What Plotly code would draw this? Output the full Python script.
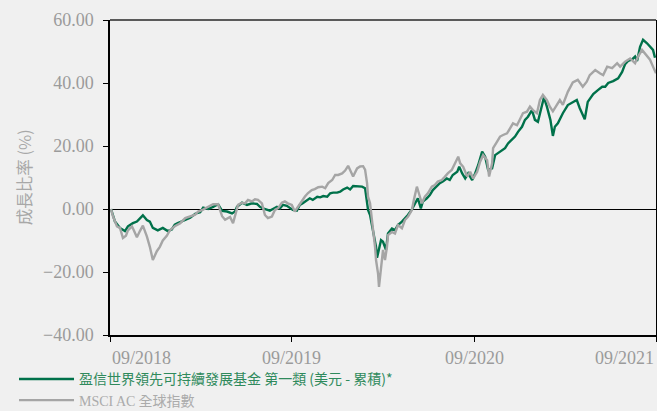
import plotly.graph_objects as go

# ---------------- data ----------------
fund_dates = [
    "2018-09-03", "2018-09-11", "2018-09-21", "2018-10-01", "2018-10-07", "2018-10-17", "2018-10-25",
    "2018-10-31", "2018-11-06", "2018-11-14", "2018-11-20", "2018-11-26", "2018-12-06", "2018-12-16",
    "2018-12-26", "2019-01-03", "2019-01-09", "2019-01-15", "2019-01-30", "2019-02-09", "2019-02-19",
    "2019-03-01", "2019-03-07", "2019-03-17", "2019-03-27", "2019-04-06", "2019-04-14", "2019-04-24",
    "2019-05-04", "2019-05-10", "2019-05-14", "2019-05-24", "2019-06-03", "2019-06-13", "2019-06-23",
    "2019-06-29", "2019-07-05", "2019-07-13", "2019-07-19", "2019-07-25", "2019-08-02", "2019-08-08",
    "2019-08-14", "2019-08-22", "2019-08-28", "2019-09-03", "2019-09-11", "2019-09-17", "2019-09-23",
    "2019-10-01", "2019-10-07", "2019-10-13", "2019-10-22", "2019-10-28", "2019-11-03", "2019-11-11",
    "2019-11-17", "2019-11-23", "2019-12-01", "2019-12-07", "2019-12-13", "2019-12-21", "2019-12-27",
    "2020-01-02", "2020-01-12", "2020-01-20", "2020-01-26", "2020-02-01", "2020-02-05", "2020-02-11",
    "2020-02-17", "2020-02-19", "2020-02-23", "2020-02-27", "2020-03-02", "2020-03-08", "2020-03-12",
    "2020-03-20", "2020-03-26", "2020-04-01", "2020-04-09", "2020-04-15", "2020-04-21", "2020-04-29",
    "2020-05-05", "2020-05-11", "2020-05-17", "2020-05-21", "2020-05-29", "2020-06-04", "2020-06-10",
    "2020-06-18", "2020-06-24", "2020-06-30", "2020-07-08", "2020-07-14", "2020-07-20", "2020-07-29",
    "2020-08-02", "2020-08-08", "2020-08-14", "2020-08-20", "2020-08-28", "2020-09-03", "2020-09-09",
    "2020-09-17", "2020-09-23", "2020-09-29", "2020-10-07", "2020-10-13", "2020-10-19", "2020-10-27",
    "2020-11-02", "2020-11-08", "2020-11-16", "2020-11-22", "2020-11-28", "2020-12-06", "2020-12-12",
    "2020-12-18", "2020-12-26", "2021-01-01", "2021-01-07", "2021-01-15", "2021-01-19", "2021-01-25",
    "2021-02-01", "2021-02-06", "2021-02-10", "2021-02-16", "2021-02-26", "2021-03-08", "2021-03-18",
    "2021-03-26", "2021-04-01", "2021-04-11", "2021-04-17", "2021-04-28", "2021-05-08", "2021-05-16",
    "2021-05-22", "2021-05-28", "2021-06-07", "2021-06-17", "2021-06-25", "2021-07-01", "2021-07-07",
    "2021-07-15", "2021-07-21", "2021-07-25", "2021-07-31", "2021-08-06", "2021-08-14", "2021-08-20",
    "2021-08-26", "2021-08-30",
]
fund_values = [
    0.0, -4.0, -6.0, -7.0, -5.5, -4.5, -4.0,
    -3.0, -2.0, -3.5, -4.0, -6.0, -6.8, -6.0,
    -7.0, -6.5, -5.0, -4.5, -3.4, -2.8, -1.5,
    -1.0, 0.4, 0.0, 0.7, 1.5, -0.6, -0.8,
    -1.4, -0.8, 0.7, 2.0, 1.3, 1.8, 1.6,
    0.7, 0.2, -0.1, -0.5, 0.0, 0.7, 0.2,
    1.3, 1.0, 0.2, -0.3, -0.5, 1.3, 1.8,
    2.8, 3.4, 2.9, 3.9, 3.7, 4.1, 3.9,
    5.0, 5.2, 5.2, 5.5, 6.2, 6.8, 6.2,
    7.3, 7.1, 7.1, 6.6, -0.3, -1.9, -6.7,
    -12.0, -15.5, -13.1, -9.9, -10.4, -13.0, -7.8,
    -6.2, -6.7, -5.1, -4.0, -3.0, -1.9, -0.1,
    1.8, 3.4, 0.2, 2.4, 3.4, 4.4, 6.0,
    7.1, 8.2, 8.7, 9.7, 9.2, 10.8, 11.8,
    13.4, 11.3, 9.7, 11.3, 9.2, 11.3, 13.9,
    18.2, 16.6, 12.4, 12.9, 17.1, 17.7, 18.7,
    19.3, 20.8, 21.9, 23.0, 24.5, 26.1, 28.3,
    29.3, 31.4, 28.3, 27.7, 33.5, 35.4, 32.5,
    28.3, 23.2, 26.1, 27.2, 30.4, 33.0, 34.0,
    34.6, 32.0, 28.5, 34.0, 36.5, 37.8, 38.8,
    38.8, 40.0, 40.6, 41.5, 43.5, 46.0, 47.0,
    47.5, 48.4, 47.0, 51.5, 53.7, 52.6, 51.5,
    50.5, 48.0,
]

index_dates = [
    "2018-09-03", "2018-09-07", "2018-09-15", "2018-09-21", "2018-09-27", "2018-10-03", "2018-10-07",
    "2018-10-15", "2018-10-19", "2018-10-25", "2018-10-31", "2018-11-06", "2018-11-14", "2018-11-20",
    "2018-11-26", "2018-12-04", "2018-12-10", "2018-12-16", "2018-12-24", "2018-12-30", "2019-01-09",
    "2019-01-20", "2019-01-30", "2019-02-09", "2019-02-19", "2019-02-25", "2019-03-07", "2019-03-17",
    "2019-03-27", "2019-04-06", "2019-04-14", "2019-04-20", "2019-04-30", "2019-05-06", "2019-05-10",
    "2019-05-16", "2019-05-24", "2019-05-30", "2019-06-05", "2019-06-13", "2019-06-19", "2019-06-25",
    "2019-07-03", "2019-07-09", "2019-07-15", "2019-07-23", "2019-07-29", "2019-08-04", "2019-08-12",
    "2019-08-18", "2019-08-24", "2019-09-01", "2019-09-07", "2019-09-13", "2019-09-21", "2019-09-27",
    "2019-10-03", "2019-10-11", "2019-10-17", "2019-10-24", "2019-11-01", "2019-11-07", "2019-11-13",
    "2019-11-21", "2019-11-27", "2019-12-03", "2019-12-11", "2019-12-17", "2019-12-23", "2019-12-29",
    "2020-01-02", "2020-01-10", "2020-01-16", "2020-01-22", "2020-01-26", "2020-01-30", "2020-02-01",
    "2020-02-05", "2020-02-09", "2020-02-11", "2020-02-15", "2020-02-17", "2020-02-21", "2020-02-23",
    "2020-02-27", "2020-03-02", "2020-03-06", "2020-03-10", "2020-03-12", "2020-03-20", "2020-03-26",
    "2020-04-01", "2020-04-09", "2020-04-15", "2020-04-21", "2020-04-29", "2020-05-03", "2020-05-09",
    "2020-05-13", "2020-05-19", "2020-05-25", "2020-05-31", "2020-06-08", "2020-06-14", "2020-06-20",
    "2020-06-28", "2020-07-04", "2020-07-10", "2020-07-18", "2020-07-25", "2020-07-31", "2020-08-04",
    "2020-08-10", "2020-08-18", "2020-08-24", "2020-08-30", "2020-09-07", "2020-09-13", "2020-09-19",
    "2020-09-27", "2020-10-01", "2020-10-07", "2020-10-09", "2020-10-17", "2020-10-23", "2020-10-29",
    "2020-11-06", "2020-11-12", "2020-11-18", "2020-11-26", "2020-12-02", "2020-12-08", "2020-12-16",
    "2020-12-22", "2020-12-28", "2021-01-05", "2021-01-11", "2021-01-17", "2021-01-25", "2021-01-31",
    "2021-02-06", "2021-02-14", "2021-02-20", "2021-02-26", "2021-03-08", "2021-03-18", "2021-03-28",
    "2021-04-07", "2021-04-15", "2021-04-21", "2021-05-02", "2021-05-12", "2021-05-18", "2021-05-26",
    "2021-06-05", "2021-06-15", "2021-06-21", "2021-07-01", "2021-07-11", "2021-07-21", "2021-07-27",
    "2021-08-04", "2021-08-14", "2021-08-20", "2021-08-26", "2021-09-01",
]
index_values = [
    0.0, -2.3, -5.5, -6.0, -9.2, -8.5, -6.8,
    -5.5, -6.8, -9.0, -7.0, -5.3, -8.7, -12.0,
    -16.2, -13.4, -12.0, -10.0, -8.5, -6.8, -5.5,
    -4.5, -2.9, -2.4, -1.8, -0.8, -0.2, 0.7,
    1.5, 1.5, -2.3, -3.4, -2.5, -4.5, -2.4,
    1.3, 2.0, 1.8, 2.9, 2.4, 3.1, 2.9,
    1.8, -1.9, -2.9, -2.4, -0.3, 0.2, 2.0,
    2.4, 1.8, 1.3, -0.8, 0.7, 2.4, 3.9,
    5.0, 6.0, 6.3, 6.9, 7.1, 6.6, 8.2,
    9.2, 10.8, 10.8, 11.3, 12.2, 13.7, 11.3,
    10.3, 12.9, 13.5, 13.6, 12.5, 8.2, 3.9,
    1.8, -3.5, -6.7, -12.0, -16.2, -20.4, -24.7,
    -19.3, -13.0, -16.2, -12.0, -8.3, -7.3, -7.8,
    -5.1, -6.1, -3.5, -2.5, -0.3, 2.9, 7.1,
    5.0, 1.8, 3.9, 5.0, 7.1, 7.6, 8.7,
    9.2, 10.2, 11.3, 12.4, 14.5, 16.6, 14.5,
    13.4, 10.3, 11.8, 9.7, 11.8, 15.0, 17.1,
    15.5, 10.3, 14.5, 19.3, 21.4, 23.0, 23.5,
    24.0, 25.6, 27.2, 26.6, 28.8, 30.4, 30.9,
    32.5, 31.4, 30.4, 34.6, 36.2, 34.6, 32.5,
    31.0, 33.0, 34.6, 33.1, 37.2, 40.2, 41.0,
    38.8, 40.4, 42.5, 44.1, 43.0, 42.5, 45.2,
    44.7, 46.3, 45.2, 46.8, 47.8, 46.3, 48.4,
    50.5, 48.4, 47.4, 45.2, 43.1,
]

fund_name = "盈信世界領先可持續發展基金 第一類 (美元 - 累積)*"
index_name_latin = "MSCI AC"
index_name_cjk = "全球指數"

x_tick_dates = ["2018-09-01", "2019-09-01", "2020-09-01", "2021-09-01"]
x_tick_labels = ["09/2018", "09/2019", "09/2020", "09/2021"]
y_tick_values = [-40, -20, 0, 20, 40, 60]
y_title = "成長比率 (%)"

# ---------------- styles ----------------
GREEN = "#00714a"
GREEN_TEXT = "#2f8a5c"
GREY = "#a5a5a5"
GREY_TEXT = "#ababab"
TICK_GREY = "#9b9b9b"
BG = "#f0f0f0"
SERIF = "Liberation Serif"
CJK = "Noto Sans CJK TC"

fig = go.Figure()
fig.add_trace(go.Scatter(
    x=fund_dates, y=fund_values, mode="lines",
    line=dict(color=GREEN, width=2.4),
    name=f"<span style='color:{GREEN_TEXT}'>{fund_name}</span>",
))
fig.add_trace(go.Scatter(
    x=index_dates, y=index_values, mode="lines",
    line=dict(color=GREY, width=2.4),
    name=(f"<span style='color:{GREY_TEXT};font-family:{SERIF}'>{index_name_latin}</span>"
          f"<span style='color:{GREY_TEXT}'> {index_name_cjk}</span>"),
))

fig.update_layout(
    width=657, height=411,
    margin=dict(l=110, r=1, t=20, b=76, autoexpand=False),
    paper_bgcolor=BG, plot_bgcolor=BG,
    showlegend=True,
    legend=dict(
        x=-0.1758, y=-0.09, xanchor="left", yanchor="top",
        orientation="v", bgcolor="rgba(0,0,0,0)",
        font=dict(family=CJK, size=14, color=GREEN_TEXT),
        itemwidth=55, tracegroupgap=0,
    ),
    xaxis=dict(
        type="date", range=["2018-09-01", "2021-09-01"],
        tickvals=x_tick_dates, ticktext=x_tick_labels, showticklabels=False,
        ticks="outside", ticklen=5, tickcolor="#000", tickwidth=1,
        showline=True, linecolor="#000", linewidth=1.5,
        showgrid=False, zeroline=False,
    ),
    yaxis=dict(
        range=[-40, 60], tickvals=y_tick_values, tickformat=".2f",
        ticks="outside", ticklen=5, tickcolor="#000", tickwidth=1,
        ticklabelstandoff=6,
        showline=True, linecolor="#000", linewidth=1.5, mirror=True,
        showgrid=False, zeroline=True, zerolinecolor="#000", zerolinewidth=1,
        tickfont=dict(family=SERIF, size=18, color=TICK_GREY),
    ),
)

# top border of the plot frame
fig.add_shape(type="line", xref="paper", yref="paper", x0=0, x1=1, y0=1, y1=1,
              line=dict(color="#5a5a5a", width=2))

# x-axis tick labels (first left-aligned, last right-aligned, as in the reference)
anchors = ["left", "center", "center", "right"]
for d, lab, anc in zip(x_tick_dates, x_tick_labels, anchors):
    fig.add_annotation(x=d, xref="x", y=-0.072, yref="paper", text=lab,
                       showarrow=False, xanchor=anc, yanchor="middle",
                       font=dict(family=SERIF, size=18, color=TICK_GREY))

# y-axis title
fig.add_annotation(x=-0.158, xref="paper", y=0.5, yref="paper", text=y_title,
                   textangle=-90, showarrow=False, xanchor="center", yanchor="middle",
                   font=dict(family=CJK, size=16.5, color="#a8a8a8"))

fig.write_html("out.html",
               config={"displayModeBar": False},
               post_script="document.body.style.margin='0';document.body.style.background='#f0f0f0';")
